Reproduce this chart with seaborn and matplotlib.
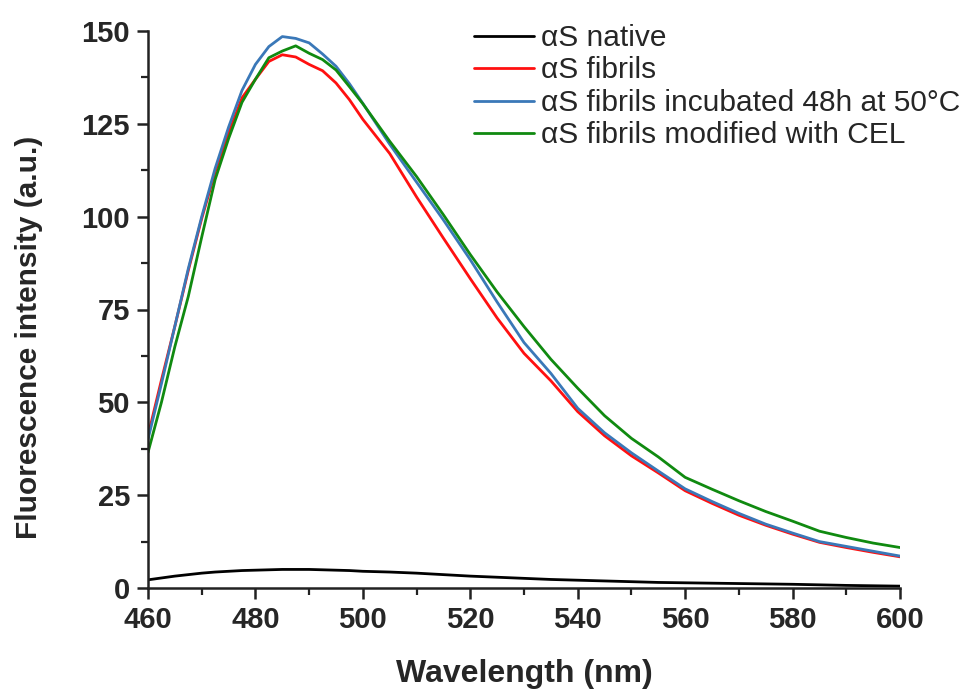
import matplotlib
matplotlib.use("Agg")
import matplotlib.pyplot as plt
import seaborn as sns
import pandas as pd
from matplotlib.ticker import MultipleLocator

# ---- data ----
wavelength = [460, 462.5, 465, 467.5, 470, 472.5, 475, 477.5, 480, 482.5, 485, 487.5,
              490, 492.5, 495, 497.5, 500, 505, 510, 515, 520, 525, 530, 535, 540,
              545, 550, 555, 560, 565, 570, 575, 580, 585, 590, 595, 600]

native = [2.2, 2.7, 3.2, 3.6, 4.0, 4.3, 4.5, 4.7, 4.8, 4.9, 5.0, 5.0,
          5.0, 4.9, 4.8, 4.7, 4.5, 4.3, 4.0, 3.6, 3.2, 2.9, 2.6, 2.3, 2.1,
          1.9, 1.7, 1.5, 1.4, 1.3, 1.2, 1.1, 1.0, 0.85, 0.7, 0.6, 0.5]

fibrils = [41.0, 56.0, 70.5, 85.5, 99.5, 112.0, 122.5, 132.0, 137.0, 141.8, 143.6, 143.0,
           141.0, 139.3, 136.0, 131.5, 126.2, 117.0, 105.3, 94.2, 83.3, 72.7, 63.2, 55.8, 47.5,
           41.0, 35.6, 31.0, 26.2, 22.8, 19.6, 16.9, 14.5, 12.3, 10.9, 9.6, 8.4]

incubated = [40.0, 55.0, 70.5, 86.0, 100.0, 113.0, 124.1, 134.0, 141.0, 145.8, 148.5, 148.0,
             146.8, 143.8, 140.5, 135.8, 130.5, 119.5, 109.3, 99.1, 88.4, 77.0, 66.1, 57.8, 48.4,
             41.8, 36.4, 31.5, 26.7, 23.3, 20.1, 17.2, 14.8, 12.5, 11.2, 9.9, 8.6]

cel = [36.5, 50.0, 65.0, 78.5, 94.5, 110.0, 121.0, 130.8, 137.0, 142.8, 144.6, 146.0,
       144.0, 142.3, 139.5, 135.0, 130.4, 120.3, 110.8, 100.5, 89.8, 79.7, 70.4, 61.6, 53.8,
       46.4, 40.3, 35.3, 29.8, 26.6, 23.5, 20.6, 18.0, 15.3, 13.6, 12.1, 10.9]

labels = ["\u03b1S native", "\u03b1S fibrils",
          "\u03b1S fibrils incubated 48h at 50\u00b0C",
          "\u03b1S fibrils modified with CEL"]
colors = ["#000000", "#ff1010", "#3a78b8", "#108a10"]

x_ticks = [460, 480, 500, 520, 540, 560, 580, 600]
y_ticks = [0, 25, 50, 75, 100, 125, 150]

series = [native, fibrils, incubated, cel]
df = pd.concat([pd.DataFrame({"Wavelength": wavelength, "Intensity": s, "Sample": lab})
                for s, lab in zip(series, labels)], ignore_index=True)

# ---- style ----
sns.set_style("ticks")
plt.rcParams["font.family"] = ["Liberation Sans", "DejaVu Sans"]

fig = plt.figure(figsize=(9.68, 6.93), dpi=100)
ax = fig.add_axes([148 / 968, 1 - 588 / 693, (900 - 148) / 968, (588 - 31) / 693])

sns.lineplot(data=df, x="Wavelength", y="Intensity", hue="Sample",
             hue_order=labels, palette=colors, linewidth=2.0, ax=ax, legend=False)

ax.set_xlim(460, 600)
ax.set_ylim(0, 150)
ax.set_xticks(x_ticks)
ax.set_yticks(y_ticks)
ax.xaxis.set_minor_locator(MultipleLocator(10))
ax.yaxis.set_minor_locator(MultipleLocator(12.5))

for sp in ["top", "right"]:
    ax.spines[sp].set_visible(False)
for sp in ["left", "bottom"]:
    ax.spines[sp].set_linewidth(1.8)
    ax.spines[sp].set_color("#222222")

ax.tick_params(axis="both", which="major", direction="out", length=8, width=1.8,
               color="#222222", labelsize=21, pad=5)
ax.tick_params(axis="both", which="minor", direction="out", length=5, width=1.6,
               color="#222222")
for lab in ax.get_xticklabels() + ax.get_yticklabels():
    lab.set_fontweight("bold")

ax.set_xlabel("Wavelength (nm)", fontsize=23, fontweight="bold")
ax.set_ylabel("Fluorescence intensity (a.u.)", fontsize=21.5, fontweight="bold")
ax.xaxis.set_label_coords(0.5, -0.128)
ax.yaxis.set_label_coords(-0.14, 0.45)

handles = [plt.Line2D([], [], color=c, linewidth=2.0) for c in colors]
leg = fig.legend(handles, labels, loc="upper left",
                 bbox_to_anchor=(474 / 968, 1 - 24 / 693), frameon=False,
                 fontsize=21.5, handlelength=2.0, handletextpad=0.25,
                 labelspacing=0.15, borderpad=0, borderaxespad=0)

fig.savefig("out.png", dpi=100)
